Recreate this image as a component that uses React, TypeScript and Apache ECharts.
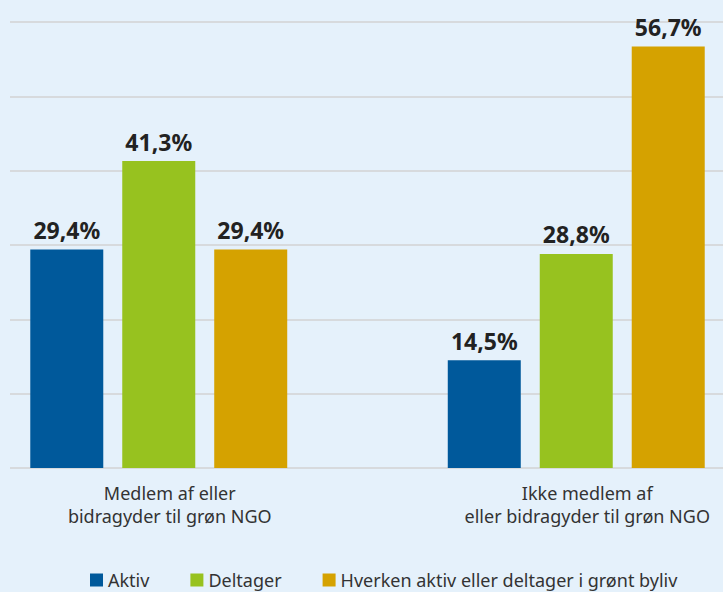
import React, { useEffect, useRef } from "react";
import * as echarts from "echarts";

const categories = ["Medlem af eller\nbidragyder til grøn NGO", "Ikke medlem af\neller bidragyder til grøn NGO"];
const seriesNames = ["Aktiv", "Deltager", "Hverken aktiv eller deltager i grønt byliv"];
const aktiv = [29.4, 14.5];
const deltager = [41.3, 28.8];
const hverken = [29.4, 56.7];
const colors = ["#00599b", "#97c21f", "#d5a200"];

export default function App() {
  const ref = useRef<HTMLDivElement>(null);
  useEffect(() => {
    const chart = echarts.init(ref.current!, null, { renderer: "svg" });
    const font = "'Noto Sans', sans-serif";
    const mk = (name: string, data: number[], color: string) => ({
      name,
      type: "bar",
      xAxisIndex: 0,
      yAxisIndex: 0,
      data,
      barWidth: 73,
      barGap: "26%",
      itemStyle: { color },
      z: 3,
      label: {
        show: true,
        position: "top",
        distance: 8,
        fontFamily: font,
        fontWeight: "bold",
        fontSize: 23,
        color: "#222",
        formatter: (p: any) => p.value.toFixed(1).replace(".", ",") + "%",
      },
    });
    chart.setOption({
      animation: false,
      backgroundColor: "#e5f1fb",
      textStyle: { fontFamily: font },
      grid: [
        { left: -50, right: -62, top: 22, bottom: 124, outerBoundsMode: "none" },
        { left: 10, right: 0, top: 22, bottom: 124, outerBoundsMode: "none" },
      ],
      xAxis: [
        {
          type: "category",
          gridIndex: 0,
          data: categories,
          axisLine: { show: false },
          axisTick: { show: false },
          axisLabel: {
            fontFamily: font,
            fontSize: 18,
            lineHeight: 23,
            color: "#333",
            margin: 13,
            padding: [0, 0, 0, 22],
          },
        },
        { type: "value", gridIndex: 1, show: false, min: 0, max: 1 },
      ],
      yAxis: [
        { type: "value", gridIndex: 0, min: 0, max: 60, interval: 10, show: false },
        {
          type: "value",
          gridIndex: 1,
          min: 0,
          max: 60,
          interval: 10,
          axisLine: { show: false },
          axisTick: { show: false },
          axisLabel: { show: false },
          splitLine: { lineStyle: { color: "#d7dadd", width: 2 } },
        },
      ],
      legend: {
        left: 85,
        top: 566,
        itemWidth: 13,
        itemHeight: 13,
        itemGap: 41,
        icon: "rect",
        textStyle: { fontFamily: font, fontSize: 18, color: "#333" },
        data: seriesNames,
      },
      series: [mk(seriesNames[0], aktiv, colors[0]), mk(seriesNames[1], deltager, colors[1]), mk(seriesNames[2], hverken, colors[2])],
    });
    return () => chart.dispose();
  }, []);
  return <div ref={ref} style={{ width: 723, height: 592, position: "absolute", left: 0, top: 0 }} />;
}
